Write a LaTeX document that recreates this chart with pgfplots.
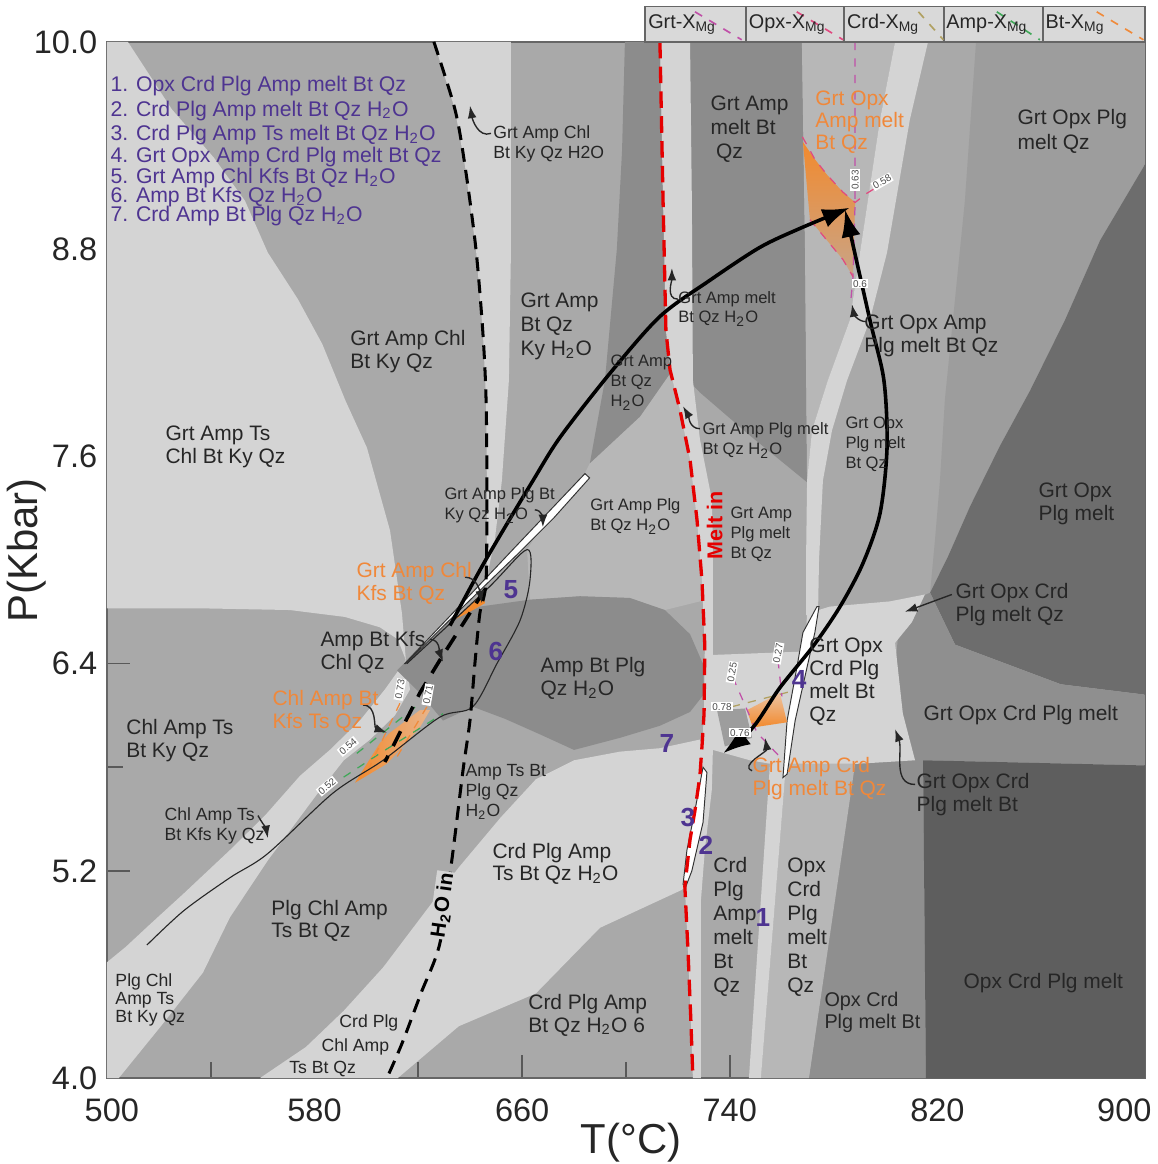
\documentclass[border=0pt]{standalone}
\usepackage{fontspec}
\setmainfont{Liberation Sans}
\usepackage{pgfplots}
\pgfplotsset{compat=1.18}
\usetikzlibrary{arrows.meta}
\definecolor{cL}{HTML}{D4D4D4}
\definecolor{cM}{HTML}{A9A9A9}
\definecolor{cML}{HTML}{B7B7B7}
\definecolor{cMD}{HTML}{9D9D9D}
\definecolor{cD}{HTML}{8C8C8C}
\definecolor{cDD}{HTML}{6D6D6D}
\definecolor{cMD2}{HTML}{8F8F8F}
\definecolor{cDDD}{HTML}{5E5E5E}
\definecolor{purp}{RGB}{78,52,145}
\definecolor{orgT}{HTML}{F0883A}
\definecolor{org}{HTML}{F28A2E}
\definecolor{peach}{HTML}{E8B48A}
\definecolor{cGrt}{HTML}{C050A8}
\definecolor{cOpx}{HTML}{E04A80}
\definecolor{cCrd}{HTML}{B0A060}
\definecolor{cAmp}{HTML}{40A858}
\definecolor{cBt}{HTML}{F08A3A}
\definecolor{boxg}{HTML}{D9D9D9}
\newcommand{\fl}{\fontsize{7.6}{8.35}\selectfont}
\newcommand{\flw}{\fontsize{7.6}{8.7}\selectfont}
\newcommand{\fs}{\fontsize{6.4}{7.3}\selectfont}
\newcommand{\fss}{\fontsize{6.0}{7.2}\selectfont}
\newcommand{\HtO}{H\textsubscript{2}O}
\tikzset{
  lab/.style={font=\fl, align=left, anchor=north west, inner sep=0pt, text=black!85},
  olab/.style={lab, text=orgT},
  slab/.style={font=\fs, align=left, anchor=north west, inner sep=0pt, text=black!85},
  sslab/.style={font=\fss, align=left, anchor=north west, inner sep=0pt, text=black!85},
  leg/.style={font=\fontsize{7.7}{9}\selectfont, text=purp, anchor=base west, inner sep=0pt},
  num/.style={font=\bfseries\fontsize{9.5}{10}\selectfont, text=purp, inner sep=0pt},
  iso/.style={fill=white, font=\fontsize{3.6}{4}\selectfont, inner sep=0.4pt, text=black!70},
  ptr/.style={line width=0.5pt, black!85, -{Latex[length=4.5pt,width=3.2pt]}},
}
\begin{document}
\begin{tikzpicture}
\begin{axis}[
  scale only axis, width=376.8pt, height=376.1pt,
  xmin=500, xmax=900, ymin=4, ymax=10,
  xtick={500,580,660,740,820,900}, minor xtick={540,620,700,780,860},
  xticklabels={\hspace*{3.6pt}500,580,660,740,820,900\hspace*{15pt}},
  ytick={4,5.2,6.4,7.6,8.8,10}, minor ytick={4.6,5.8,7.0,8.2,9.4},
  yticklabel style={/pgf/number format/fixed,/pgf/number format/fixed zerofill,/pgf/number format/precision=1},
  /pgf/number format/assume math mode=true,
  tick align=inside, tick pos=left,
  major tick length=8.3pt, minor tick length=5.8pt,
  every tick/.style={black!65, line width=0.6pt},
  axis line style={black!60, line width=0.6pt},
  ticklabel style={font=\fontsize{11.8}{13}\selectfont, text=black!85},
  xticklabel shift=4pt,
  every axis x label/.style={at={(rel axis cs:0.505,-0.0628)}, anchor=center, font=\fontsize{15.2}{17}\selectfont, text=black!85},
  every axis y label/.style={at={(rel axis cs:-0.077,0.509)}, rotate=90, anchor=center, font=\fontsize{15.2}{17}\selectfont, text=black!85},
  xlabel={T(°C)}, ylabel={P(Kbar)},
  axis background/.style={fill=cM},
  clip=false,
]
% ---------------- fields ----------------
\addplot[fill=cL, draw=none] coordinates {(500,10) (508.1,10) (525.0,9.61) (541.2,9.33) (553.2,9.08) (562.0,8.78) (573.6,8.51) (583,8.25) (592,7.92) (600.2,7.65) (609.1,7.17) (613.7,6.69) (615.2,6.42) (612.1,6.54) (605.2,6.61) (591.7,6.67) (570.5,6.71) (535.8,6.72) (500,6.72)} -- cycle;
\addplot[fill=cL, draw=none] coordinates {(615.2,6.42) (607.1,6.25) (597.5,6.07) (585.9,5.90) (574.4,5.75) (560.9,5.52) (547.4,5.32) (529.7,5.07) (516.6,4.89) (507.3,4.76) (500,4.67) (500,4) (504.6,4) (520.8,4.30) (537.0,4.61) (547.4,4.93) (562.0,5.26) (581.3,5.65) (591.3,5.84) (601.4,5.96) (611.0,6.10) (616.8,6.25)} -- cycle;
\addplot[fill=cL, draw=none] coordinates {(559.0,4.00) (576.7,4.18) (591.3,4.39) (606.4,4.64) (621.0,4.93) (635.6,5.22) (651.8,5.51) (665.3,5.73) (680.0,5.84) (697.7,5.89) (713.1,5.91) (728.5,5.96) (731.6,5.84) (730.1,5.61) (726.6,5.32) (724.7,5.15) (721.6,5.09) (690.0,4.87) (665.3,4.49) (635.6,4.30) (612.1,4.00)} -- cycle;
\addplot[fill=cML, draw=none] coordinates {(683.4,7.48) (686.1,7.56) (705.4,7.83) (717.0,8.08) (722.7,7.87) (728.5,7.52) (730.4,7.12) (731.2,6.77) (715.0,6.71) (701.5,6.78) (682.3,6.79) (663.0,6.77) (661.9,7.06) (670.7,7.26)} -- cycle;
\addplot[fill=cD, draw=none] coordinates {(611.8,6.36) (620.6,6.50) (631.0,6.64) (643.7,6.73) (663.0,6.77) (682.3,6.79) (701.5,6.78) (715.0,6.71) (724.7,6.57) (729.9,6.39) (729.9,6.22) (724.7,6.12) (713.1,6.04) (697.7,5.97) (680.0,5.90) (666.9,5.99) (653.4,6.08) (641.0,6.15) (629.5,6.07) (620.6,6.23)} -- cycle;
\addplot[fill=cL, draw=none] coordinates {(626.0,10.00) (634.1,9.61) (638.0,9.28) (642.2,8.80) (644.9,8.31) (646.1,7.93) (646.4,7.46) (646.4,6.90) (649.5,7.12) (652.2,7.46) (654.9,8.04) (655.7,8.80) (655.7,10)} -- cycle;
\addplot[fill=cD, draw=none] coordinates {(699.6,10) (713.1,10) (714.3,9.08) (715.8,8.51) (717.0,8.08) (705.4,7.83) (686.1,7.56) (691.9,8.04) (696.5,8.80) (698.5,9.37)} -- cycle;
\addplot[fill=cD, draw=none] coordinates {(724.7,10) (767.8,10) (769.0,8.80) (769.8,7.45) (747.8,7.72) (728.5,7.97) (724.7,8.03)} -- cycle;
\addplot[fill=cML, draw=none] coordinates {(767.8,10) (803.7,10) (797.9,9.55) (790.2,8.78) (786.3,8.39) (777.8,8.04) (771.7,7.75) (769.8,7.45) (769.0,8.80)} -- cycle;
\addplot[fill=cL, draw=none] coordinates {(803.7,10) (797.9,9.55) (790.2,8.78) (786.3,8.39) (777.8,8.04) (771.7,7.75) (769.8,7.46) (769.4,7.00) (769.4,6.68) (774.0,6.68) (774.4,7.00) (775.9,7.46) (779.4,7.75) (785.2,8.04) (794.0,8.39) (800.6,8.78) (809.4,9.55) (816.4,10)} -- cycle;
\addplot[fill=cMD, draw=none] coordinates {(834.9,10) (900,10) (900,9.29) (882.7,8.85) (869.2,8.39) (855.7,7.98) (844.1,7.66) (832.6,7.31) (824.1,7.02) (817.2,6.81) (819.1,7.12) (821.0,7.46) (822.9,7.93) (826.8,8.51) (830.6,9.08)} -- cycle;
\addplot[fill=cDD, draw=none] coordinates {(900,9.29) (882.7,8.85) (869.2,8.39) (855.7,7.98) (844.1,7.66) (832.6,7.31) (824.1,7.02) (817.2,6.81) (826.8,6.51) (867.6,6.28) (900,6.22)} -- cycle;
\addplot[fill=cMD2, draw=none] coordinates {(817.2,6.81) (826.8,6.51) (867.6,6.28) (900,6.22) (900,5.81) (814.5,5.84) (815.6,4.00) (770.5,4.00) (788.3,5.87) (803,6.2) (805,6.6) (807.5,6.75)} -- cycle;
\addplot[fill=cDDD, draw=none] coordinates {(814.5,5.84) (900,5.81) (900,4.00) (815.6,4.00)} -- cycle;
\addplot[fill=cL, draw=none] coordinates {(733.5,6.45) (769.0,6.47) (769.8,6.69) (778.6,6.73) (801.7,6.76) (815.2,6.80) (810.2,6.64) (803.7,6.52) (806.7,6.11) (811.4,5.84) (778.6,5.81) (763.2,5.80) (747.8,5.84) (733.5,5.90)} -- cycle;
\addplot[fill=cMD, draw=none] coordinates {(735.1,6.13) (745.9,6.14) (748.6,5.97) (738.1,5.92)} -- cycle;
\addplot[fill=cML, draw=none] coordinates {(761.7,5.82) (788.3,5.82) (770.5,4.00) (752.0,4.00)} -- cycle;
\addplot[fill=cL, draw=none] coordinates {(755.5,5.82) (761.7,5.82) (752.0,4.00) (747.4,4.00)} -- cycle;
\addplot[fill=cL, draw=none] coordinates {(713.1,10.00) (714.3,9.08) (715.4,8.33) (717.0,8.10) (720.8,7.87) (724.7,7.58) (727.4,7.23) (729.3,6.88) (730.4,6.50) (730.1,6.11) (729.3,5.92) (728.5,5.75) (726.6,5.55) (724.7,5.38) (722.7,5.11) (723.9,4.74) (725.0,4.34) (725.8,4.00) (728.9,4.00) (728.9,5.03) (730.4,5.32) (733.1,5.67) (733.5,5.90) (733.5,6.48) (733.5,7.12) (733.1,7.35) (728.5,7.70) (725.8,8.04) (725.4,9.08) (724.7,10.00)} -- cycle;
% white slivers
\addplot[fill=white, draw=black!80, line width=0.35pt] coordinates {(684.2,7.50) (670.3,7.28) (656.4,7.06) (642.6,6.84) (628.7,6.62) (614.8,6.40) (615.2,6.40) (629.2,6.61) (643.5,6.82) (658.0,7.03) (672.3,7.245) (686.0,7.475)} -- cycle;
\addplot[fill=white, draw=black!80, line width=0.35pt] coordinates {(773.6,6.73) (768.2,6.58) (765.9,6.38) (762.1,6.07) (760.5,5.74) (762.1,5.76) (765.2,6.07) (769.8,6.38) (772.8,6.58) (774.4,6.73)} -- cycle;
\addplot[fill=white, draw=black!80, line width=0.35pt] coordinates {(729.7,5.80) (731.2,5.77) (729.7,5.48) (725.4,5.20) (723.1,5.11) (722.0,5.12) (723.5,5.32) (726.6,5.55)} -- cycle;
% orange fields
\addplot[draw=none, top color=org, bottom color=peach!70!gray] coordinates {(768.2,9.42) (772.8,9.32) (777.5,9.23) (783.6,9.13) (788.3,9.07) (787.5,8.64) (783.6,8.74) (777.5,8.85) (770.9,8.97)} -- cycle;
\addplot[draw=none, top color=peach!80!white, bottom color=org] coordinates {(746.6,6.13) (759.3,6.23) (762.1,6.06) (748.9,6.03)} -- cycle;
\addplot[draw=none, left color=org, right color=peach] coordinates {(595.6,5.71) (605.2,5.94) (609.1,6.00) (620.6,6.13) (624.5,6.13) (620.6,6.03) (614.1,5.92) (607.9,5.82)} -- cycle;
\addplot[fill=org, draw=none] coordinates {(633.3,6.65) (644.9,6.81) (645.7,6.75) (639.9,6.70)} -- cycle;
% isopleths
\addplot[cGrt, dashed, line width=0.45pt] coordinates {(788.3,10) (788.3,9.07) (787.5,8.64) (786.7,8.51)};
\addplot[cOpx, dashed, line width=0.45pt] coordinates {(768.0,9.45) (772.8,9.32) (777.5,9.23) (783.6,9.13) (788.3,9.07) (792.5,9.12) (797.9,9.17)};
\addplot[cOpx, dashed, line width=0.45pt] coordinates {(770.9,8.97) (777.5,8.85) (783.6,8.74) (787.5,8.64)};
\addplot[cCrd, dashed, line width=0.45pt] coordinates {(740.8,6.15) (763.9,6.24)};
\addplot[cGrt, dashed, line width=0.45pt] coordinates {(741.2,6.32) (750.5,6.00) (759.3,5.86)};
\addplot[cGrt, dashed, line width=0.45pt] coordinates {(758.6,6.42) (760.1,6.21)};
\addplot[cAmp, dashed, line width=0.45pt] coordinates {(596.3,5.88) (620.6,6.17)};
\addplot[cAmp, dashed, line width=0.45pt] coordinates {(585.9,5.69) (605.2,5.88) (629.5,6.11)};
\addplot[cBt, dashed, line width=0.45pt] coordinates {(612.9,6.17) (600.2,5.77)};
\addplot[cBt, dashed, line width=0.45pt] coordinates {(623.3,6.15) (611.8,5.86)};
% thin outline
\addplot[black!85, line width=0.4pt, smooth] coordinates {(615.6,6.40) (646.4,6.83) (661.9,7.06) (663.0,6.88) (659.2,6.65) (650.3,6.40) (641.0,6.15) (628.3,6.09) (606.4,5.84) (587.1,5.65) (562.0,5.30) (547.4,5.16) (529.7,4.97) (515.4,4.77)};
% H2O in and Melt in
\addplot[black, line width=1.1pt, dash pattern=on 5pt off 3pt, smooth] coordinates {(626.0,10.00) (634.1,9.61) (638.0,9.28) (642.2,8.80) (644.9,8.31) (646.1,7.93) (646.4,7.46) (646.1,6.88) (643.7,6.69) (641.8,6.40) (639.9,6.07) (637.2,5.78) (632.9,5.26) (628.3,4.78) (621.0,4.49) (613.7,4.20) (607.9,4.00)};
\addplot[red!90!black, line width=1.2pt, dash pattern=on 6pt off 3pt] coordinates {(713.1,10.00) (714.3,9.08) (715.4,8.33) (717.0,8.10) (720.8,7.87) (724.7,7.58) (727.4,7.23) (729.3,6.88) (730.4,6.50) (730.1,6.11) (729.3,5.92) (728.5,5.75) (726.6,5.55) (724.7,5.38) (722.7,5.11) (723.9,4.74) (725.0,4.34) (725.8,4.00)};
% P-T paths
\addplot[black, line width=1.3pt, dash pattern=on 6pt off 4pt] coordinates {(645.7,6.83) (628.3,6.42) (620.6,6.23) (610.2,5.92) (607.1,5.83)};
\addplot[black, line width=1.3pt, smooth, -{Latex[length=10pt,width=7pt]}] coordinates {(632.2,6.62) (643.7,6.94) (653.4,7.19) (664.2,7.46) (674.6,7.71) (693.8,8.08) (713.1,8.41) (732.4,8.62) (751.6,8.81) (767.1,8.92) (786.3,9.04)};
\addplot[black, line width=1.3pt, smooth, {Latex[length=10pt,width=7pt]}-{Latex[length=10pt,width=7pt]}] coordinates {(737.4,5.88) (748.9,6.03) (759.3,6.26) (772.1,6.50) (782.5,6.73) (791.3,6.98) (797.9,7.27) (800.6,7.65) (799.4,8.04) (794.0,8.39) (784.4,9.03)};
% pointers
\draw[ptr] (648.0,9.47) to[out=200,in=-80] (639.9,9.63);
\draw[ptr] (720.0,8.51) to[out=180,in=-90] (717.7,8.69);
\draw[ptr] (728.5,7.76) to[out=180,in=-60] (722.0,7.89);
\draw[ptr] (792.5,8.38) to[out=180,in=-80] (787.1,8.48);
\draw[ptr] (664.9,7.29) to[out=0,in=90] (668.0,7.19);
\draw[ptr] (638.0,6.90) to[out=0,in=100] (644.5,6.75);
\draw[ptr] (624.5,6.54) to[out=0,in=110] (629.5,6.41);
\draw[ptr] (598.7,6.16) to[out=0,in=160] (607.9,6.00);
\draw[ptr] (558.2,5.52) to[out=-60,in=100] (562.0,5.39);
\draw[ptr] (825.6,6.80) to[out=200,in=20] (807.5,6.70);
\draw[ptr] (748.6,5.78) to[out=160,in=-80] (753.6,5.97);
\draw[ptr] (811.4,5.70) to[out=180,in=-70] (803.7,6.02);
% isopleth values
\node[iso, rotate=90] at (788.3,9.20) {0.63};
\node[iso, rotate=30] at (798.7,9.19) {0.58};
\node[iso] at (790.2,8.60) {0.6};
\node[iso] at (737.0,6.15) {0.78};
\node[iso, rotate=80] at (740.9,6.35) {0.25};
\node[iso, rotate=80] at (758.6,6.46) {0.27};
\node[iso] at (743.9,6.00) {0.76};
\node[iso, rotate=40] at (592.9,5.92) {0.54};
\node[iso, rotate=40] at (584.8,5.69) {0.52};
\node[iso, rotate=80] at (612.9,6.25) {0.73};
\node[iso, rotate=80] at (623.7,6.22) {0.71};
% legend list
\node[leg] at (501.2,9.71) {1. Opx Crd Plg Amp melt Bt Qz};
\node[leg] at (501.2,9.57) {2. Crd Plg Amp melt Bt Qz \HtO};
\node[leg] at (501.2,9.43) {3. Crd Plg Amp Ts melt Bt Qz \HtO};
\node[leg] at (501.2,9.30) {4. Grt Opx Amp Crd Plg melt Bt Qz};
\node[leg] at (501.2,9.18) {5. Grt Amp Chl Kfs Bt Qz \HtO};
\node[leg] at (501.2,9.07) {6. Amp Bt Kfs Qz \HtO};
\node[leg] at (501.2,8.96) {7. Crd Amp Bt Plg Qz \HtO};
% field labels
\node[slab] at (648.7,9.52) {Grt Amp Chl\\Bt Ky Qz H2O};
\node[lab] at (522.4,7.78) {Grt Amp Ts\\Chl Bt Ky Qz};
\node[lab] at (593.6,8.33) {Grt Amp Chl\\Bt Ky Qz};
\node[lab, font=\flw] at (659.2,8.55) {Grt Amp\\Bt Qz\\Ky \HtO};
\node[sslab] at (693.9,8.19) {Grt Amp\\Bt Qz\\\HtO};
\node[sslab] at (720.0,8.56) {Grt Amp melt\\Bt Qz \HtO};
\node[lab, font=\flw] at (732.4,9.69) {Grt Amp\\melt Bt\\\hspace*{2pt}Qz};
\node[olab, font=\fontsize{7.6}{8}\selectfont] at (772.8,9.72) {Grt Opx\\Amp melt\\Bt Qz};
\node[lab, font=\fontsize{7.6}{9}\selectfont] at (850.7,9.61) {Grt Opx Plg\\melt Qz};
\node[lab] at (791.7,8.42) {Grt Opx Amp\\Plg melt Bt Qz};
\node[sslab] at (729.3,7.80) {Grt Amp Plg melt\\Bt Qz \HtO};
\node[sslab] at (784.4,7.83) {Grt Opx\\Plg melt\\Bt Qz};
\node[lab] at (858.8,7.45) {Grt Opx\\Plg melt};
\node[sslab] at (629.9,7.42) {Grt Amp Plg Bt\\Ky Qz \HtO};
\node[sslab] at (686.1,7.36) {Grt Amp Plg\\Bt Qz \HtO};
\node[sslab] at (740.1,7.31) {Grt Amp\\Plg melt\\Bt Qz};
\node[olab] at (596.0,6.99) {Grt Amp Chl\\Kfs Bt Qz};
\node[lab] at (582.1,6.59) {Amp Bt Kfs\\Chl Qz};
\node[lab] at (826.8,6.87) {Grt Opx Crd\\Plg melt Qz};
\node[lab] at (666.9,6.44) {Amp Bt Plg\\Qz \HtO};
\node[lab] at (770.5,6.55) {Grt Opx\\Crd Plg\\melt Bt\\Qz};
\node[lab] at (814.5,6.16) {Grt Opx Crd Plg melt};
\node[olab] at (563.6,6.25) {Chl Amp Bt\\Kfs Ts Qz};
\node[lab] at (507.3,6.08) {Chl Amp Ts\\Bt Ky Qz};
\node[slab] at (638.0,5.82) {Amp Ts Bt\\Plg Qz\\\HtO};
\node[olab] at (748.6,5.86) {Grt Amp Crd\\Plg melt Bt Qz};
\node[lab] at (811.8,5.77) {Grt Opx Crd\\Plg melt Bt};
\node[slab] at (522.0,5.57) {Chl Amp Ts\\Bt Kfs Ky Qz};
\node[lab, font=\fontsize{7.6}{8}\selectfont] at (648.4,5.36) {Crd Plg Amp\\Ts Bt Qz \HtO};
\node[lab, font=\flw] at (733.5,5.28) {Crd\\Plg\\Amp\\melt\\Bt\\Qz};
\node[lab, font=\flw] at (762.0,5.28) {Opx\\Crd\\Plg\\melt\\Bt\\Qz};
\node[lab, font=\fontsize{7.6}{8}\selectfont] at (563.2,5.03) {Plg Chl Amp\\Ts Bt Qz};
\node[slab, font=\fontsize{6.4}{6.6}\selectfont] at (503.1,4.61) {Plg Chl\\Amp Ts\\Bt Ky Qz};
\node[lab] at (829.9,4.61) {Opx Crd Plg melt};
\node[lab] at (662.2,4.49) {Crd Plg Amp\\Bt Qz \HtO{} 6};
\node[lab, font=\fontsize{7.2}{8}\selectfont] at (776.3,4.50) {Opx Crd\\Plg melt Bt};
\node[slab] at (589.4,4.37) {Crd Plg};
\node[slab] at (582.5,4.23) {Chl Amp};
\node[slab] at (570.1,4.10) {Ts Bt Qz};
% numbers
\node[num] at (655.7,6.83) {5};
\node[num] at (649.9,6.47) {6};
\node[num] at (715.8,5.94) {7};
\node[num] at (766.7,6.31) {4};
\node[num] at (723.9,5.51) {3};
\node[num] at (730.8,5.35) {2};
\node[num] at (752.8,4.93) {1};
\node[rotate=90, font=\bfseries\fontsize{7.8}{8}\selectfont, text=red!90!black, inner sep=0pt] at (734.2,7.20) {Melt in};
\node[rotate=82, font=\bfseries\fontsize{7.5}{8}\selectfont, text=black, fill=cL, inner sep=0.6pt] at (629.6,5.00) {H\textsubscript{2}O in};
% top legend boxes
\draw[fill=boxg, draw=black!60, line width=0.5pt] (707.3,10) rectangle (746.2,10.203);
\draw[fill=boxg, draw=black!60, line width=0.5pt] (746.2,10) rectangle (784.0,10.203);
\draw[fill=boxg, draw=black!60, line width=0.5pt] (784.0,10) rectangle (822.5,10.203);
\draw[fill=boxg, draw=black!60, line width=0.5pt] (822.5,10) rectangle (860.7,10.203);
\draw[fill=boxg, draw=black!60, line width=0.5pt] (860.7,10) rectangle (900,10.203);
\draw[cGrt, dashed, line width=0.6pt] (726.6,10.174) -- (744.6,10.012);
\draw[cOpx, dashed, line width=0.6pt] (765.8,10.174) -- (783.7,10.012);
\draw[cCrd, dashed, line width=0.6pt] (812.7,10.174) -- (822.3,10.012);
\draw[cAmp, dashed, line width=0.6pt] (842.9,10.174) -- (859.5,10.012);
\draw[cBt, dashed, line width=0.6pt] (881.4,10.174) -- (899.4,10.012);
\node[anchor=west, inner sep=0pt, font=\fontsize{7.2}{8}\selectfont, text=black!85] at (708.4,10.10) {Grt-X\textsubscript{Mg}};
\node[anchor=west, inner sep=0pt, font=\fontsize{7.2}{8}\selectfont, text=black!85] at (747.2,10.10) {Opx-X\textsubscript{Mg}};
\node[anchor=west, inner sep=0pt, font=\fontsize{7.2}{8}\selectfont, text=black!85] at (785.0,10.10) {Crd-X\textsubscript{Mg}};
\node[anchor=west, inner sep=0pt, font=\fontsize{7.2}{8}\selectfont, text=black!85] at (823.3,10.10) {Amp-X\textsubscript{Mg}};
\node[anchor=west, inner sep=0pt, font=\fontsize{7.2}{8}\selectfont, text=black!85] at (861.5,10.10) {Bt-X\textsubscript{Mg}};
\coordinate (bl) at (rel axis cs:0,0);
\coordinate (tr) at (rel axis cs:1,1);
\end{axis}
\pgfresetboundingbox
\path[use as bounding box] ([shift={(-38.8pt,-31.2pt)}]bl) rectangle ([shift={(4.4pt,15.2pt)}]tr);
\end{tikzpicture}
\end{document}
